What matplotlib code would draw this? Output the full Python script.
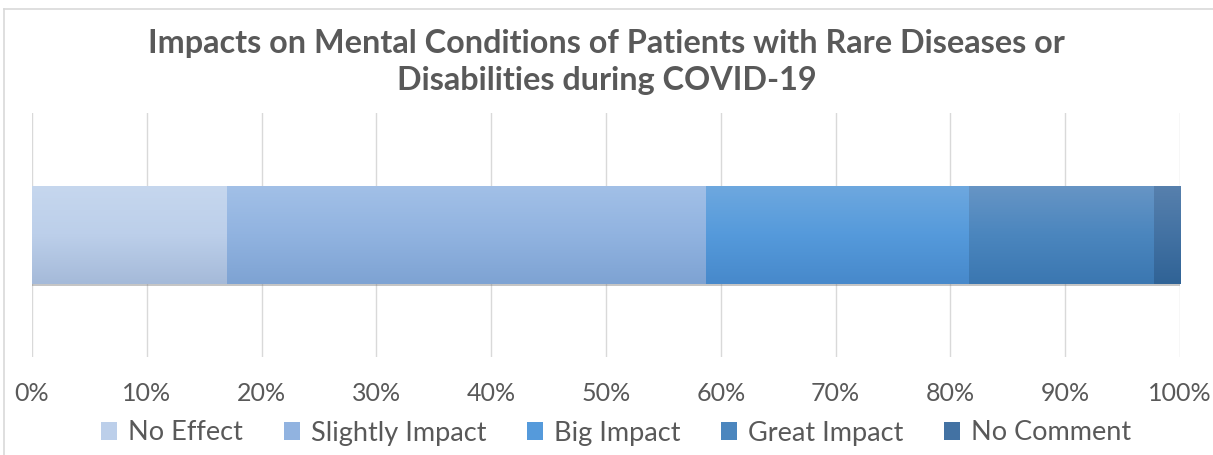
import matplotlib
matplotlib.use("Agg")
import matplotlib.pyplot as plt
import matplotlib.patheffects as pe
from matplotlib.patches import Patch
from matplotlib.lines import Line2D
from matplotlib.colors import to_rgb
import numpy as np

categories = ["No Effect", "Slightly Impact", "Big Impact", "Great Impact", "No Comment"]
values = [17.0, 41.7, 22.9, 16.1, 2.3]
tick_values = [0, 10, 20, 30, 40, 50, 60, 70, 80, 90, 100]
tick_labels = ["0%", "10%", "20%", "30%", "40%", "50%", "60%", "70%", "80%", "90%", "100%"]
title = "Impacts on Mental Conditions of Patients with Rare Diseases or\nDisabilities during COVID-19"

grad_top = ["#C6D7EE", "#A2C0E7", "#6EA8DF", "#6795C5", "#5780AD"]
grad_mid = ["#BCCFEA", "#91B3E0", "#559ADB", "#4B86BE", "#4372A3"]
grad_bot = ["#A5BAD9", "#7EA3D3", "#4789CB", "#3B77B1", "#306396"]

FONT = "Lato"
TXT = "#595959"
plt.rcParams['font.family'] = [FONT, 'DejaVu Sans']

fig = plt.figure(figsize=(12.13, 4.55), dpi=100)
ax = fig.add_axes([32/1213, 1-357/455, (1180-32)/1213, (357-113)/455])

bar_h = 0.402
lefts = np.concatenate([[0], np.cumsum(values)[:-1]])
bars = ax.barh([0]*len(values), values, left=lefts, height=bar_h,
               color=grad_mid, edgecolor='none', zorder=3)
for b in bars:
    b.set_path_effects([pe.SimplePatchShadow(offset=(0, -1.6), shadow_rgbFace='#808080', alpha=0.45), pe.Normal()])

for b, ct, cm, cb in zip(bars, grad_top, grad_mid, grad_bot):
    x0, y0 = b.get_x(), b.get_y()
    w, h = b.get_width(), b.get_height()
    n = 64
    t = np.linspace(0, 1, n)[:, None]
    top, mid, bot = np.array(to_rgb(ct)), np.array(to_rgb(cm)), np.array(to_rgb(cb))
    grad = np.where(t < 0.5, top + (mid - top) * (t / 0.5), mid + (bot - mid) * ((t - 0.5) / 0.5))
    img = grad[:, None, :].repeat(2, axis=1)
    im = ax.imshow(img, extent=[x0, x0 + w, y0, y0 + h], origin='upper',
                   aspect='auto', zorder=4, interpolation='bilinear')
    im.set_clip_path(b)

ax.set_xlim(0, 100)
ax.set_ylim(-0.5, 0.5)
ax.set_xticks(tick_values)
ax.set_xticklabels(tick_labels)
ax.set_yticks([])
ax.grid(axis='x', color='#D9D9D9', linewidth=1.0, zorder=0)
ax.set_axisbelow(True)
for s in ax.spines.values():
    s.set_visible(False)
ax.tick_params(axis='x', length=0, pad=18, labelsize=18, labelcolor=TXT)

fig.suptitle(title, x=0.5, y=1-29/455, fontsize=23.3, fontweight='bold', color=TXT,
             linespacing=1.33, va='top')

handles = [Patch(facecolor=c, edgecolor='none') for c in grad_mid]
leg = fig.legend(handles, categories, loc='center', bbox_to_anchor=(0.508, 1-433/455), ncol=5,
                 frameon=False, fontsize=19.5, handlelength=0.6, handleheight=0.6,
                 handletextpad=0.4, columnspacing=1.5, labelcolor=TXT)

fig.add_artist(Line2D([4/1213, 1], [1-9/455, 1-9/455], color='#D9D9D9', lw=1.2))
fig.add_artist(Line2D([4/1213, 4/1213], [0, 1-9/455], color='#D9D9D9', lw=1.2))

fig.savefig("out.png", dpi=100)
